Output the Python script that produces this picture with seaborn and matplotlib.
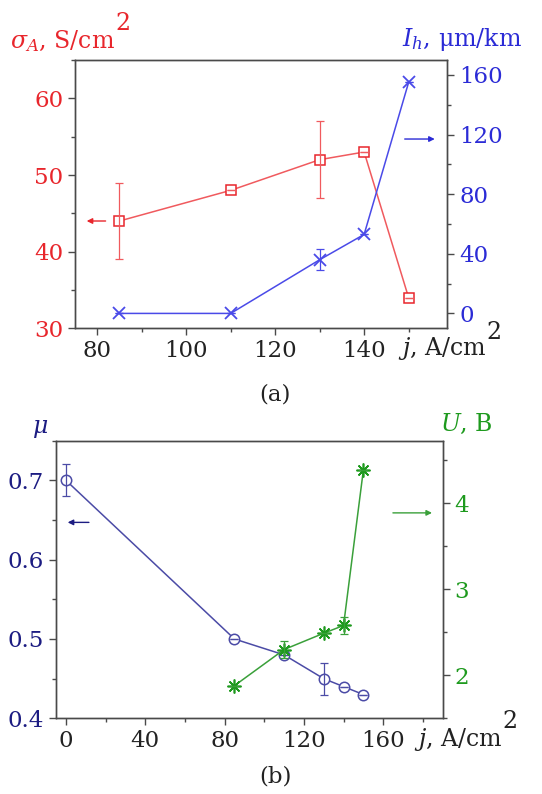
import matplotlib
matplotlib.use("Agg")
import matplotlib.pyplot as plt
import seaborn as sns
import numpy as np
import pandas as pd
from matplotlib.ticker import MultipleLocator, FormatStrFormatter

# ---- data panel (a) ----
j_a = [85, 110, 130, 140, 150]
sigma_A = [44, 48, 52, 53, 34]
sigma_err = [5, 0, 5, 0, 0]
I_h = [0, 0, 36, 53, 155]
I_h_err = [0, 0, 7, 0, 0]

# ---- data panel (b) ----
j_mu = [0, 85, 110, 130, 140, 150]
mu = [0.70, 0.50, 0.48, 0.45, 0.44, 0.43]
mu_err = [0.02, 0, 0, 0.02, 0, 0]
j_U = [85, 110, 130, 140, 150]
U = [1.88, 2.30, 2.49, 2.58, 4.39]
U_err = [0, 0.1, 0, 0.1, 0]

sns.set_style("ticks")
plt.rcParams['font.family'] = ['DejaVu Serif']
plt.rcParams['mathtext.fontset'] = 'dejavuserif'

RED_T = '#e8262c'
RED_L = '#f05a5e'
BLUE_T = '#2b2bd6'
BLUE_L = '#4a4ae8'
NAVY_T = '#1c1c82'
NAVY_L = '#4b4ba6'
GREEN_T = '#1e9a1e'
GREEN_L = '#3aa03a'
SPINE = '#4a4a4a'
DARK = '#222222'
FS = 16.5
LFS = 17

fig = plt.figure(figsize=(5.42, 7.94), dpi=100)
W, H = 542.0, 794.0


def style_axes(ax):
    for s in ax.spines.values():
        s.set_color(SPINE)
        s.set_linewidth(1.0)
    ax.tick_params(axis='both', which='major', direction='out', length=5, width=1, color=SPINE, labelsize=FS)
    ax.tick_params(axis='both', which='minor', direction='out', length=3, width=1, color=SPINE)


def label_with_sup(x_px, base_px, text, sup, color, sup_rise):
    t = fig.text(x_px / W, 1 - base_px / H, text, color=color, fontsize=LFS, ha='left', va='baseline',
                 family='DejaVu Serif')
    if sup:
        fig.canvas.draw()
        bb = t.get_window_extent()
        fig.text(bb.x1 / W, 1 - (base_px - sup_rise) / H, sup, color=color, fontsize=LFS,
                 ha='left', va='baseline', family='DejaVu Serif')
    return t

# ================= panel (a) =================
ax1 = fig.add_axes([0.1384, 0.5865, 0.8253 - 0.1384, 0.9244 - 0.5865])
ax2 = ax1.twinx()

sns.lineplot(x=j_a, y=sigma_A, ax=ax1, color=RED_L, marker='s', markersize=7,
             markerfacecolor='white', markeredgecolor=RED_T, markeredgewidth=1.1, linewidth=1.1)
ax1.errorbar(j_a, sigma_A, yerr=sigma_err, fmt='none', ecolor=RED_L, elinewidth=0.9, capsize=3, capthick=0.9)
sns.lineplot(x=j_a, y=I_h, ax=ax2, color=BLUE_L, marker='x', markersize=9,
             markeredgecolor=BLUE_L, markeredgewidth=1.3, linewidth=1.1)
ax2.errorbar(j_a, I_h, yerr=I_h_err, fmt='none', ecolor=BLUE_L, elinewidth=0.9, capsize=3, capthick=0.9)

ax1.set_xlim(75, 158.7)
ax1.set_ylim(30, 65)
ax2.set_ylim(-10, 170)
ax1.xaxis.set_major_locator(MultipleLocator(20))
ax1.xaxis.set_minor_locator(MultipleLocator(10))
ax1.yaxis.set_major_locator(MultipleLocator(10))
ax1.yaxis.set_minor_locator(MultipleLocator(5))
ax2.yaxis.set_major_locator(MultipleLocator(40))
ax2.yaxis.set_minor_locator(MultipleLocator(20))
style_axes(ax1)
style_axes(ax2)
ax1.tick_params(axis='y', labelcolor=RED_T)
ax2.tick_params(axis='y', which='both', labelcolor=BLUE_T)
ax1.tick_params(axis='x', labelcolor=DARK)
ax1.set_xlabel('')
ax1.set_ylabel('')
ax2.set_ylabel('')

ax1.annotate('', xy=(77, 44), xytext=(82.5, 44),
             arrowprops=dict(arrowstyle='-|>', color=RED_T, lw=1.0, mutation_scale=8))
ax2.annotate('', xy=(156.5, 117), xytext=(148.5, 117),
             arrowprops=dict(arrowstyle='-|>', color=BLUE_T, lw=1.0, mutation_scale=8))

label_with_sup(10, 48, r'$\sigma_A$, S/cm', '2', RED_T, 18)
label_with_sup(402, 46, r'$I_h$, μm/km', None, BLUE_T, 0)
label_with_sup(398, 355, r'$j$, A/cm', '2', DARK, 16)
fig.text(275 / W, 1 - 400 / H, '(a)', color=DARK, fontsize=FS, ha='center', va='baseline')

# ================= panel (b) =================
bx1 = fig.add_axes([0.1033, 0.0953, 0.8168 - 0.1033, 0.4450 - 0.0953])
bx2 = bx1.twinx()

sns.lineplot(x=j_mu, y=mu, ax=bx1, color=NAVY_L, marker='o', markersize=7.5,
             markerfacecolor='white', markeredgecolor=NAVY_L, markeredgewidth=1.1, linewidth=1.1)
bx1.errorbar(j_mu, mu, yerr=mu_err, fmt='none', ecolor=NAVY_L, elinewidth=0.9, capsize=3, capthick=0.9)
sns.lineplot(x=j_U, y=U, ax=bx2, color=GREEN_L, marker=(8, 2, 0), markersize=10,
             markeredgecolor=GREEN_T, markeredgewidth=1.2, linewidth=1.1)
bx2.errorbar(j_U, U, yerr=U_err, fmt='none', ecolor=GREEN_L, elinewidth=0.9, capsize=3, capthick=0.9)

bx1.set_xlim(-5, 190)
bx1.set_ylim(0.4, 0.75)
bx2.set_ylim(1.5, 4.73)
bx1.set_xticks([0, 40, 80, 120, 160])
bx1.xaxis.set_minor_locator(MultipleLocator(20))
bx1.yaxis.set_major_locator(MultipleLocator(0.1))
bx1.yaxis.set_minor_locator(MultipleLocator(0.05))
bx2.yaxis.set_major_locator(MultipleLocator(1))
bx2.yaxis.set_minor_locator(MultipleLocator(0.5))
style_axes(bx1)
style_axes(bx2)
bx1.tick_params(axis='y', labelcolor=NAVY_T)
bx2.tick_params(axis='y', which='both', labelcolor=GREEN_T)
bx1.tick_params(axis='x', labelcolor=DARK)
bx1.yaxis.set_major_formatter(FormatStrFormatter('%.1f'))
bx1.set_xlabel('')
bx1.set_ylabel('')
bx2.set_ylabel('')

bx1.annotate('', xy=(-0.5, 0.647), xytext=(13, 0.647),
             arrowprops=dict(arrowstyle='-|>', color=NAVY_T, lw=1.0, mutation_scale=8))
bx2.annotate('', xy=(186, 3.89), xytext=(163.5, 3.89),
             arrowprops=dict(arrowstyle='-|>', color=GREEN_L, lw=1.0, mutation_scale=8))

label_with_sup(32, 433, r'$\mu$', None, NAVY_T, 0)
label_with_sup(440, 431, r'$U$, B', None, GREEN_T, 0)
label_with_sup(414, 746, r'$j$, A/cm', '2', DARK, 18)
fig.text(275 / W, 1 - 782 / H, '(b)', color=DARK, fontsize=FS, ha='center', va='baseline')

fig.savefig('out.png', dpi=100)
